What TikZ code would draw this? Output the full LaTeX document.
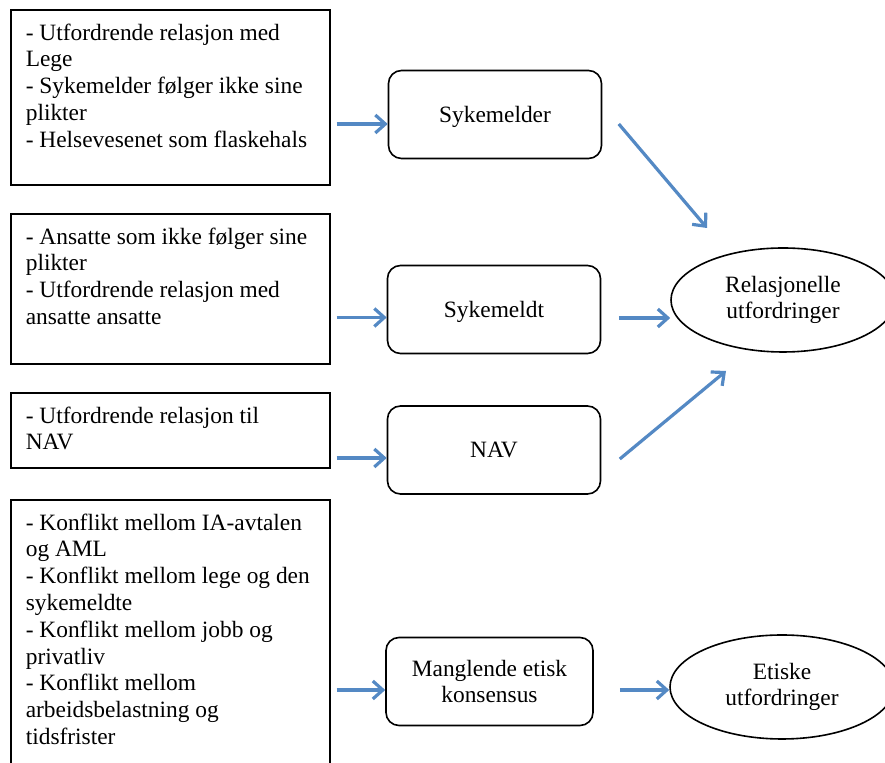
\documentclass[tikz,border=0pt]{standalone}
\usepackage{fontspec}
\setmainfont{Liberation Serif}
\usepackage{tikz}
\usetikzlibrary{arrows.meta,shapes.geometric,calc,positioning}
\definecolor{pilblaa}{RGB}{84,137,196}
\newcommand{\punkter}[2]{\parbox[c][#1][t]{144.5pt}{\raggedright\strut #2}}
\tikzset{
  venstreboks/.style={draw, line width=0.8pt, inner xsep=7.5pt, inner ysep=5.75pt, anchor=north west},
  midtboks/.style={draw, line width=0.8pt, rounded corners=6.5pt, minimum width=106.5pt, minimum height=44pt, align=center, font=\fontsize{11.7}{13}\selectfont},
  enlinje/.style={text height=8pt, text depth=0pt},
  utfordring/.style={draw, line width=0.8pt, ellipse, minimum width=112pt, minimum height=52pt, inner sep=0pt, align=center, font=\fontsize{11.7}{12.6}\selectfont},
  pil/.style={-{Straight Barb[length=5pt,width=9pt]}, line width=1.6pt, color=pilblaa}
}

\begin{document}
\begin{tikzpicture}[x=0.5pt, y=-0.5pt, every node/.append style={font=\fontsize{11.7}{13.4}\selectfont}]
      \useasboundingbox (0,0) rectangle (885,763);

      \node[venstreboks] (sykemelderpunkter) at (10,9) {\punkter{76pt}{- Utfordrende relasjon med\\Lege\\- Sykemelder følger ikke sine\\plikter\\- Helsevesenet som flaskehals}};
      \node[venstreboks] (sykemeldtpunkter) at (10,213) {\punkter{63.5pt}{- Ansatte som ikke følger sine\\plikter\\- Utfordrende relasjon med\\ansatte ansatte}};
      \node[venstreboks] (navpunkter) at (10,392) {\punkter{26pt}{- Utfordrende relasjon til\\NAV}};
      \node[venstreboks] (etikkpunkter) at (10,499) {\punkter{129.5pt}{- Konflikt mellom IA-avtalen\\og AML\\- Konflikt mellom lege og den\\sykemeldte\\- Konflikt mellom jobb og\\privatliv\\- Konflikt mellom\\arbeidsbelastning og\\tidsfrister}};

      \node[midtboks, enlinje] (sykemelder) at (495,114.5) {Sykemelder};
      \node[midtboks, enlinje] (sykemeldt) at (494,309.5) {Sykemeldt};
      \node[midtboks, enlinje] (nav) at (494,450) {NAV};
      \node[midtboks, minimum width=103.5pt] (manglende) at (489.5,681.5) {Manglende etisk\\konsensus};

      \node[utfordring] (relasjonelle) at (783,300) {Relasjonelle\\utfordringer};
      \node[utfordring] (etiske) at (782,687) {Etiske\\utfordringer};

      % inn til midten
      \draw[pil, shorten <=3pt] ([yshift=-4.75pt]sykemelder.west -| sykemelderpunkter.east) -- ([yshift=-4.75pt]sykemelder.west);
      \draw[pil, shorten <=3pt] ([yshift=-4pt]sykemeldt.west -| sykemeldtpunkter.east) -- ([yshift=-4pt]sykemeldt.west);
      \draw[pil, shorten <=3pt] ([yshift=-4pt]nav.west -| navpunkter.east) -- ([yshift=-4pt]nav.west);
      \draw[pil, shorten <=3pt] ([yshift=-4.25pt]manglende.west -| etikkpunkter.east) -- ([yshift=-4.25pt]manglende.west);

      % ut til utfordringene
      \draw[pil] ([shift={(8.25pt,-4.75pt)}]sykemelder.east) -- ([shift={(-38pt,36pt)}]relasjonelle.center);
      \draw[pil, shorten <=8.75pt] ([yshift=-4.25pt]sykemeldt.east) -- ([yshift=-4.25pt]sykemeldt.east -| relasjonelle.west);
      \draw[pil] ([shift={(9.25pt,-4.5pt)}]nav.east) -- ([shift={(-28.5pt,-35.5pt)}]relasjonelle.center);
      \draw[pil, shorten <=13pt] ([yshift=-4.25pt]manglende.east) -- ([yshift=-4.25pt]manglende.east -| etiske.west);
    \end{tikzpicture}
\end{document}
